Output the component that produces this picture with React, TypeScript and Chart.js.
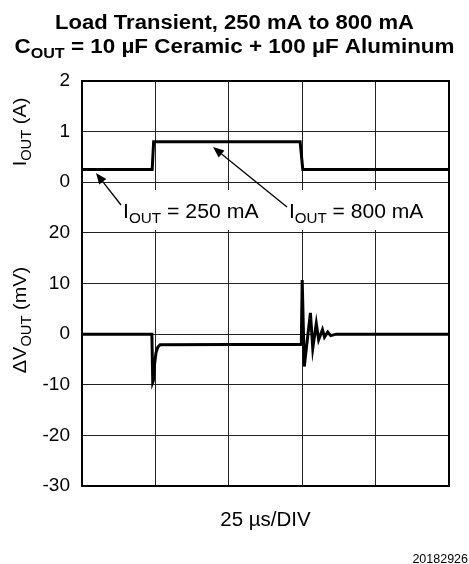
import React, { useEffect, useRef } from "react";
import { Chart, registerables } from "chart.js";

Chart.register(...registerables);

// ---- Data (time in µs, 25 µs/DIV) ----
const currentTimeUs = [0, 23.9, 24.4, 74.3, 75.2, 125];
const currentAmps = [0.25, 0.25, 0.8, 0.8, 0.25, 0.25];

const voltTimeUs = [0, 23.8, 24.1, 24.3, 24.7, 25.2, 25.8, 26.6, 74.7, 75.0, 75.7, 77.8, 78.6, 79.8, 80.6, 81.9, 82.6, 83.7, 84.7, 86.6, 125];
const deltaVoutMv = [0, 0, -9.5, -9.2, -6.0, -3.7, -2.6, -2.1, -2.0, 10.7, -6.4, 4.2, -2.8, 2.1, -1.1, 0.9, -0.6, 0.4, -0.3, 0, 0];

// Upper panel (current) is mapped onto the shared axis: value = 30 + amps * 10
const currentOffset = 30;
const currentScale = 10;
const yTickValues = [50, 40, 30, 20, 10, 0, -10, -20, -30];
const yTickLabels = ["2", "1", "0", "20", "10", "0", "-10", "-20", "-30"];

const titleLine1 = "Load Transient, 250 mA to 800 mA";
const xTitle = "25 µs/DIV";
const footnote = "20182926";

const FONT = '"Liberation Sans", Arial, Helvetica, sans-serif';

type Part = { t: string; sub?: boolean };

function drawRich(
  ctx: CanvasRenderingContext2D,
  parts: Part[],
  x: number,
  y: number,
  size: number,
  bold: boolean,
  align: "left" | "center" | "right",
  sx = 1
) {
  const w = bold ? "bold " : "";
  const subSize = Math.round(size * 0.72);
  let total = 0;
  for (const p of parts) {
    ctx.font = `${w}${p.sub ? subSize : size}px ${FONT}`;
    total += ctx.measureText(p.t).width;
  }
  let startX = x;
  if (align === "center") startX = x - (total * sx) / 2;
  else if (align === "right") startX = x - total * sx;
  ctx.save();
  ctx.translate(startX, y);
  ctx.scale(sx, 1);
  ctx.textAlign = "left";
  ctx.textBaseline = "alphabetic";
  let cx = 0;
  for (const p of parts) {
    ctx.font = `${w}${p.sub ? subSize : size}px ${FONT}`;
    ctx.fillText(p.t, cx, p.sub ? size * 0.28 : 0);
    cx += ctx.measureText(p.t).width;
  }
  ctx.restore();
}

function drawArrow(ctx: CanvasRenderingContext2D, x1: number, y1: number, x2: number, y2: number) {
  ctx.save();
  ctx.strokeStyle = "#000";
  ctx.fillStyle = "#000";
  ctx.lineWidth = 1.3;
  const ang = Math.atan2(y2 - y1, x2 - x1);
  const hl = 11;
  const hw = 4.5;
  const bx = x2 - hl * Math.cos(ang);
  const by = y2 - hl * Math.sin(ang);
  ctx.beginPath();
  ctx.moveTo(x1, y1);
  ctx.lineTo(bx, by);
  ctx.stroke();
  ctx.beginPath();
  ctx.moveTo(x2, y2);
  ctx.lineTo(bx + hw * Math.sin(ang), by - hw * Math.cos(ang));
  ctx.lineTo(bx - hw * Math.sin(ang), by + hw * Math.cos(ang));
  ctx.closePath();
  ctx.fill();
  ctx.restore();
}

const decorPlugin = {
  id: "decor",
  beforeDatasetsDraw(chart: any) {
    const { ctx, chartArea } = chart;
    ctx.save();
    ctx.fillStyle = "#fff";
    ctx.fillRect(chartArea.left + 1.5, 190, chartArea.right - chartArea.left - 3, 40);
    ctx.restore();
  },
  afterDraw(chart: any) {
    const { ctx, chartArea } = chart;
    ctx.save();
    // frame
    ctx.strokeStyle = "#000";
    ctx.lineWidth = 2;
    ctx.strokeRect(chartArea.left, chartArea.top, chartArea.right - chartArea.left, chartArea.bottom - chartArea.top);

    ctx.fillStyle = "#000";
    // title
    drawRich(ctx, [{ t: titleLine1 }], 234.5, 28.5, 19.5, true, "center", 1.13);
    drawRich(ctx, [{ t: "C" }, { t: "OUT", sub: true }, { t: " = 10 µF Ceramic + 100 µF Aluminum" }], 234.5, 53, 19.5, true, "center", 1.15);

    // y titles
    ctx.save();
    ctx.translate(26, 132);
    ctx.rotate(-Math.PI / 2);
    drawRich(ctx, [{ t: "I" }, { t: "OUT", sub: true }, { t: " (A)" }], 0, 0, 19, false, "center", 1.05);
    ctx.restore();
    ctx.save();
    ctx.translate(26, 320);
    ctx.rotate(-Math.PI / 2);
    drawRich(ctx, [{ t: "ΔV" }, { t: "OUT", sub: true }, { t: " (mV)" }], 0, 0, 19, false, "center", 1.05);
    ctx.restore();

    // annotations
    drawRich(ctx, [{ t: "I" }, { t: "OUT", sub: true }, { t: " = 250 mA" }], 123, 218, 19.5, false, "left", 1.09);
    drawRich(ctx, [{ t: "I" }, { t: "OUT", sub: true }, { t: " = 800 mA" }], 289, 218, 19.5, false, "left", 1.08);
    drawArrow(ctx, 121, 205, 96, 173);
    drawArrow(ctx, 287, 207, 213, 147);

    // x title
    drawRich(ctx, [{ t: xTitle }], (chartArea.left + chartArea.right) / 2, 526, 19.5, false, "center", 1.05);
    // footnote
    drawRich(ctx, [{ t: footnote }], 468, 563, 12.5, false, "right");
    ctx.restore();
  },
};

export default function App() {
  const ref = useRef<HTMLCanvasElement | null>(null);
  useEffect(() => {
    if (!ref.current) return;
    const currentPts = currentTimeUs.map((t, i) => ({ x: t, y: currentOffset + currentAmps[i] * currentScale }));
    const voltPts = voltTimeUs.map((t, i) => ({ x: t, y: deltaVoutMv[i] }));
    const chart = new Chart(ref.current, {
      type: "line",
      data: {
        datasets: [
          { label: "IOUT", data: currentPts, borderColor: "#000", borderWidth: 3, pointRadius: 0, tension: 0, fill: false },
          { label: "dVOUT", data: voltPts, borderColor: "#000", borderWidth: 3, pointRadius: 0, tension: 0, fill: false },
        ],
      },
      options: {
        responsive: false,
        animation: false,
        layout: { padding: { top: 81, bottom: 78, right: 20, left: 0 } },
        plugins: { legend: { display: false }, tooltip: { enabled: false }, title: { display: false } },
        scales: {
          x: {
            type: "linear",
            min: 0,
            max: 125,
            ticks: { display: false, stepSize: 25 },
            grid: { color: "#222", lineWidth: 1, drawTicks: false },
            border: { display: false },
            afterFit: (s: any) => { s.height = 0; },
          },
          y: {
            type: "linear",
            min: -30,
            max: 50,
            afterBuildTicks: (s: any) => { s.ticks = yTickValues.map((v) => ({ value: v })); },
            ticks: {
              color: "#000",
              padding: 12,
              font: { family: FONT, size: 19 },
              callback: (v: any) => {
                const i = yTickValues.indexOf(Number(v));
                return i >= 0 ? yTickLabels[i] : "";
              },
            },
            grid: { color: "#222", lineWidth: 1, drawTicks: false },
            border: { display: false },
            afterFit: (s: any) => { s.width = 82; },
          },
        },
      },
      plugins: [decorPlugin],
    });
    return () => chart.destroy();
  }, []);
  return (
    <canvas ref={ref} width={469} height={564} style={{ position: "absolute", left: 0, top: 0, width: 469, height: 564 }} />
  );
}
